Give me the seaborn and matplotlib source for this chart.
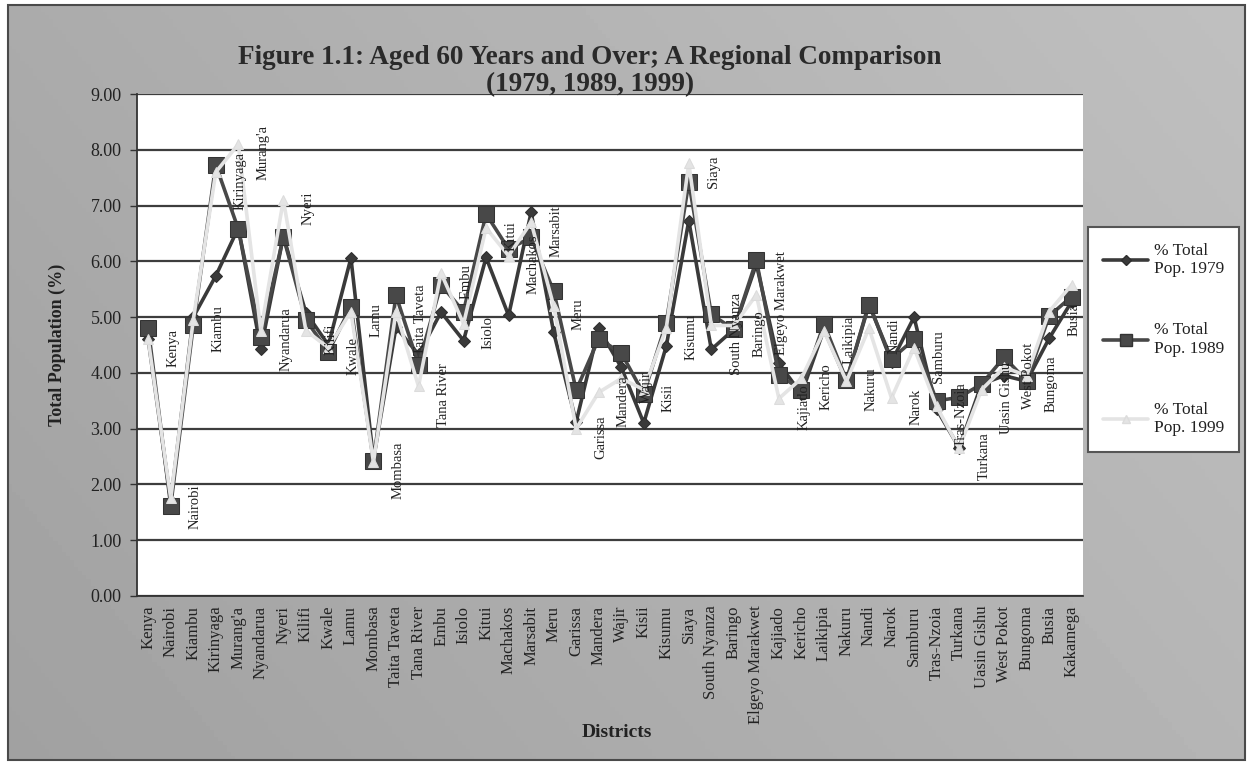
import matplotlib
matplotlib.use('Agg')
import numpy as np
import pandas as pd
import matplotlib.pyplot as plt
import seaborn as sns
from matplotlib.patches import Rectangle
from matplotlib.lines import Line2D

# values (% of population aged 60+)
districts = [
    'Kenya', 'Nairobi', 'Kiambu', 'Kirinyaga', "Murang'a", 'Nyandarua', 'Nyeri',
    'Kilifi', 'Kwale', 'Lamu', 'Mombasa', 'Taita Taveta', 'Tana River', 'Embu',
    'Isiolo', 'Kitui', 'Machakos', 'Marsabit', 'Meru', 'Garissa', 'Mandera',
    'Wajir', 'Kisii', 'Kisumu', 'Siaya', 'South Nyanza', 'Baringo',
    'Elgeyo Marakwet', 'Kajiado', 'Kericho', 'Laikipia', 'Nakuru', 'Nandi',
    'Narok', 'Samburu', 'Tras-Nzoia', 'Turkana', 'Uasin Gishu', 'West Pokot',
    'Bungoma', 'Busia', 'Kakamega',
]
pct_1979 = [4.60, 1.70, 5.00, 5.74, 6.60, 4.43, 6.45, 5.08, 4.50, 6.06, 2.45,
            4.82, 4.33, 5.09, 4.58, 6.07, 5.03, 6.88, 4.73, 3.12, 4.80, 4.10,
            3.10, 4.48, 6.73, 4.42, 4.78, 5.95, 4.17, 3.62, 4.78, 3.85, 5.25,
            4.20, 5.00, 3.35, 2.66, 3.80, 3.95, 3.85, 4.62, 5.28]
pct_1989 = [4.80, 1.62, 4.85, 7.73, 6.58, 4.65, 6.44, 4.95, 4.38, 5.19, 2.42,
            5.39, 4.15, 5.58, 5.10, 6.85, 6.22, 6.43, 5.47, 3.69, 4.61, 4.36,
            3.62, 4.90, 7.42, 5.05, 4.78, 6.02, 3.96, 3.70, 4.88, 3.87, 5.22,
            4.25, 4.60, 3.50, 3.56, 3.80, 4.28, 3.86, 5.02, 5.37]
pct_1999 = [4.60, 1.75, 4.95, 7.60, 8.10, 4.75, 7.10, 4.76, 4.45, 5.10, 2.40,
            5.10, 3.76, 5.79, 4.88, 6.60, 6.10, 6.70, 5.20, 3.00, 3.65, 3.90,
            3.70, 4.80, 7.76, 4.85, 4.85, 5.40, 3.54, 3.90, 4.75, 3.85, 4.80,
            3.55, 4.45, 3.40, 2.65, 3.70, 4.10, 3.95, 5.10, 5.58]
years = ['1979', '1989', '1999']
y_ticks = [0, 1, 2, 3, 4, 5, 6, 7, 8, 9]

df = pd.DataFrame({'idx': range(len(districts)), 'district': districts,
                   '1979': pct_1979, '1989': pct_1989, '1999': pct_1999})
long = df.melt(id_vars=['idx', 'district'], value_vars=years,
               var_name='year', value_name='pct')

sns.set_style('white')
plt.rcParams['font.family'] = ['Liberation Serif', 'DejaVu Serif']
TXT = '#222222'

fig = plt.figure(figsize=(12.53, 7.65), dpi=100)
fig.patch.set_facecolor('white')

# grey chart-area background with a soft gradient
bg = fig.add_axes([0.006, 0.006, 0.988, 0.988], zorder=-10)
gx = np.linspace(0, 1, 300)
gy = np.linspace(0, 1, 200)
grad = 0.63 + 0.08 * gx[None, :] + 0.04 * gy[:, None]
bg.imshow(grad, cmap='gray', vmin=0, vmax=1, aspect='auto',
          extent=[0, 1, 0, 1], origin='lower')
bg.axis('off')
fig.patches.append(Rectangle((0.006, 0.006), 0.988, 0.988, transform=fig.transFigure,
                             fill=False, edgecolor='#4a4a4a', lw=1.5))

ax = fig.add_axes([0.1093, 0.221, 0.7550, 0.656])
ax.set_facecolor('white')

styles = {
    '1979': dict(color='#3a3a3a', marker='D', markersize=6, mec='#2e2e2e'),
    '1989': dict(color='#484848', marker='s', markersize=11, mec='#333333'),
    '1999': dict(color='#e4e4e4', marker='^', markersize=7, mec='#dcdcdc'),
}
for yr in years:
    st = styles[yr]
    sns.lineplot(data=long[long['year'] == yr], x='idx', y='pct', ax=ax,
                 color=st['color'], linewidth=2.6, marker=st['marker'],
                 markersize=st['markersize'], markeredgecolor=st['mec'],
                 legend=False, zorder=3)

# data labels (names next to the points)
for i, (name, v) in enumerate(zip(districts, pct_1999)):
    ax.text(i + 1.1, v - 0.15, name, rotation=90, ha='center', va='center',
            fontsize=10.5, color=TXT, clip_on=True, zorder=4)

ax.set_xlim(-0.5, len(districts) - 0.5)
ax.set_ylim(0, 9)
ax.set_yticks(y_ticks)
ax.set_yticklabels([f'{t:.2f}' for t in y_ticks], fontsize=13, color=TXT)
ax.set_xticks(range(len(districts)))
ax.set_xticklabels(districts, rotation=90, fontsize=12, color=TXT)
ax.set_xticks(np.arange(-0.5, len(districts), 1), minor=True)
ax.tick_params(axis='x', which='major', length=0, pad=7)
ax.tick_params(axis='x', which='minor', length=5, width=1, color='#333333', direction='out')
ax.tick_params(axis='y', length=5, width=1, color='#333333', direction='out', left=True, pad=6)
ax.yaxis.grid(True, color='#3d3d3d', lw=1.6)
ax.set_axisbelow(True)
for s in ['top', 'right']:
    ax.spines[s].set_visible(False)
for s in ['left', 'bottom']:
    ax.spines[s].set_color('#333333')
    ax.spines[s].set_linewidth(1.3)
ax.set_xlabel('')
ax.set_ylabel('')

fig.text(0.471, 0.925, 'Figure 1.1: Aged 60 Years and Over; A Regional Comparison',
         ha='center', va='center', fontsize=19.5, weight='bold', color='#2a2a2a')
fig.text(0.471, 0.889, '(1979, 1989, 1999)', ha='center', va='center',
         fontsize=19.5, weight='bold', color='#2a2a2a')
fig.text(0.0455, 0.549, 'Total Population (%)', rotation=90, ha='center', va='center',
         fontsize=13, weight='bold', color=TXT)
fig.text(0.492, 0.043, 'Districts', ha='center', va='center',
         fontsize=14, weight='bold', color=TXT)

handles = [Line2D([], [], color=styles[yr]['color'], lw=2.6, marker=styles[yr]['marker'],
                  markersize=styles[yr]['markersize'] * 0.8, mec=styles[yr]['mec'])
           for yr in years]
leg = ax.legend(handles, [f'% Total\nPop. {yr}' for yr in years], loc='center',
                bbox_to_anchor=(0.9286, 0.556), bbox_transform=fig.transFigure,
                frameon=True, fancybox=False, framealpha=1, labelspacing=2.6,
                handlelength=2.6, handletextpad=0.3, borderpad=0.9, fontsize=12.5)
leg.get_frame().set_edgecolor('#555555')
leg.get_frame().set_linewidth(1.5)
leg.get_frame().set_facecolor('white')
for t in leg.get_texts():
    t.set_color(TXT)

fig.savefig('out.png', dpi=100)
